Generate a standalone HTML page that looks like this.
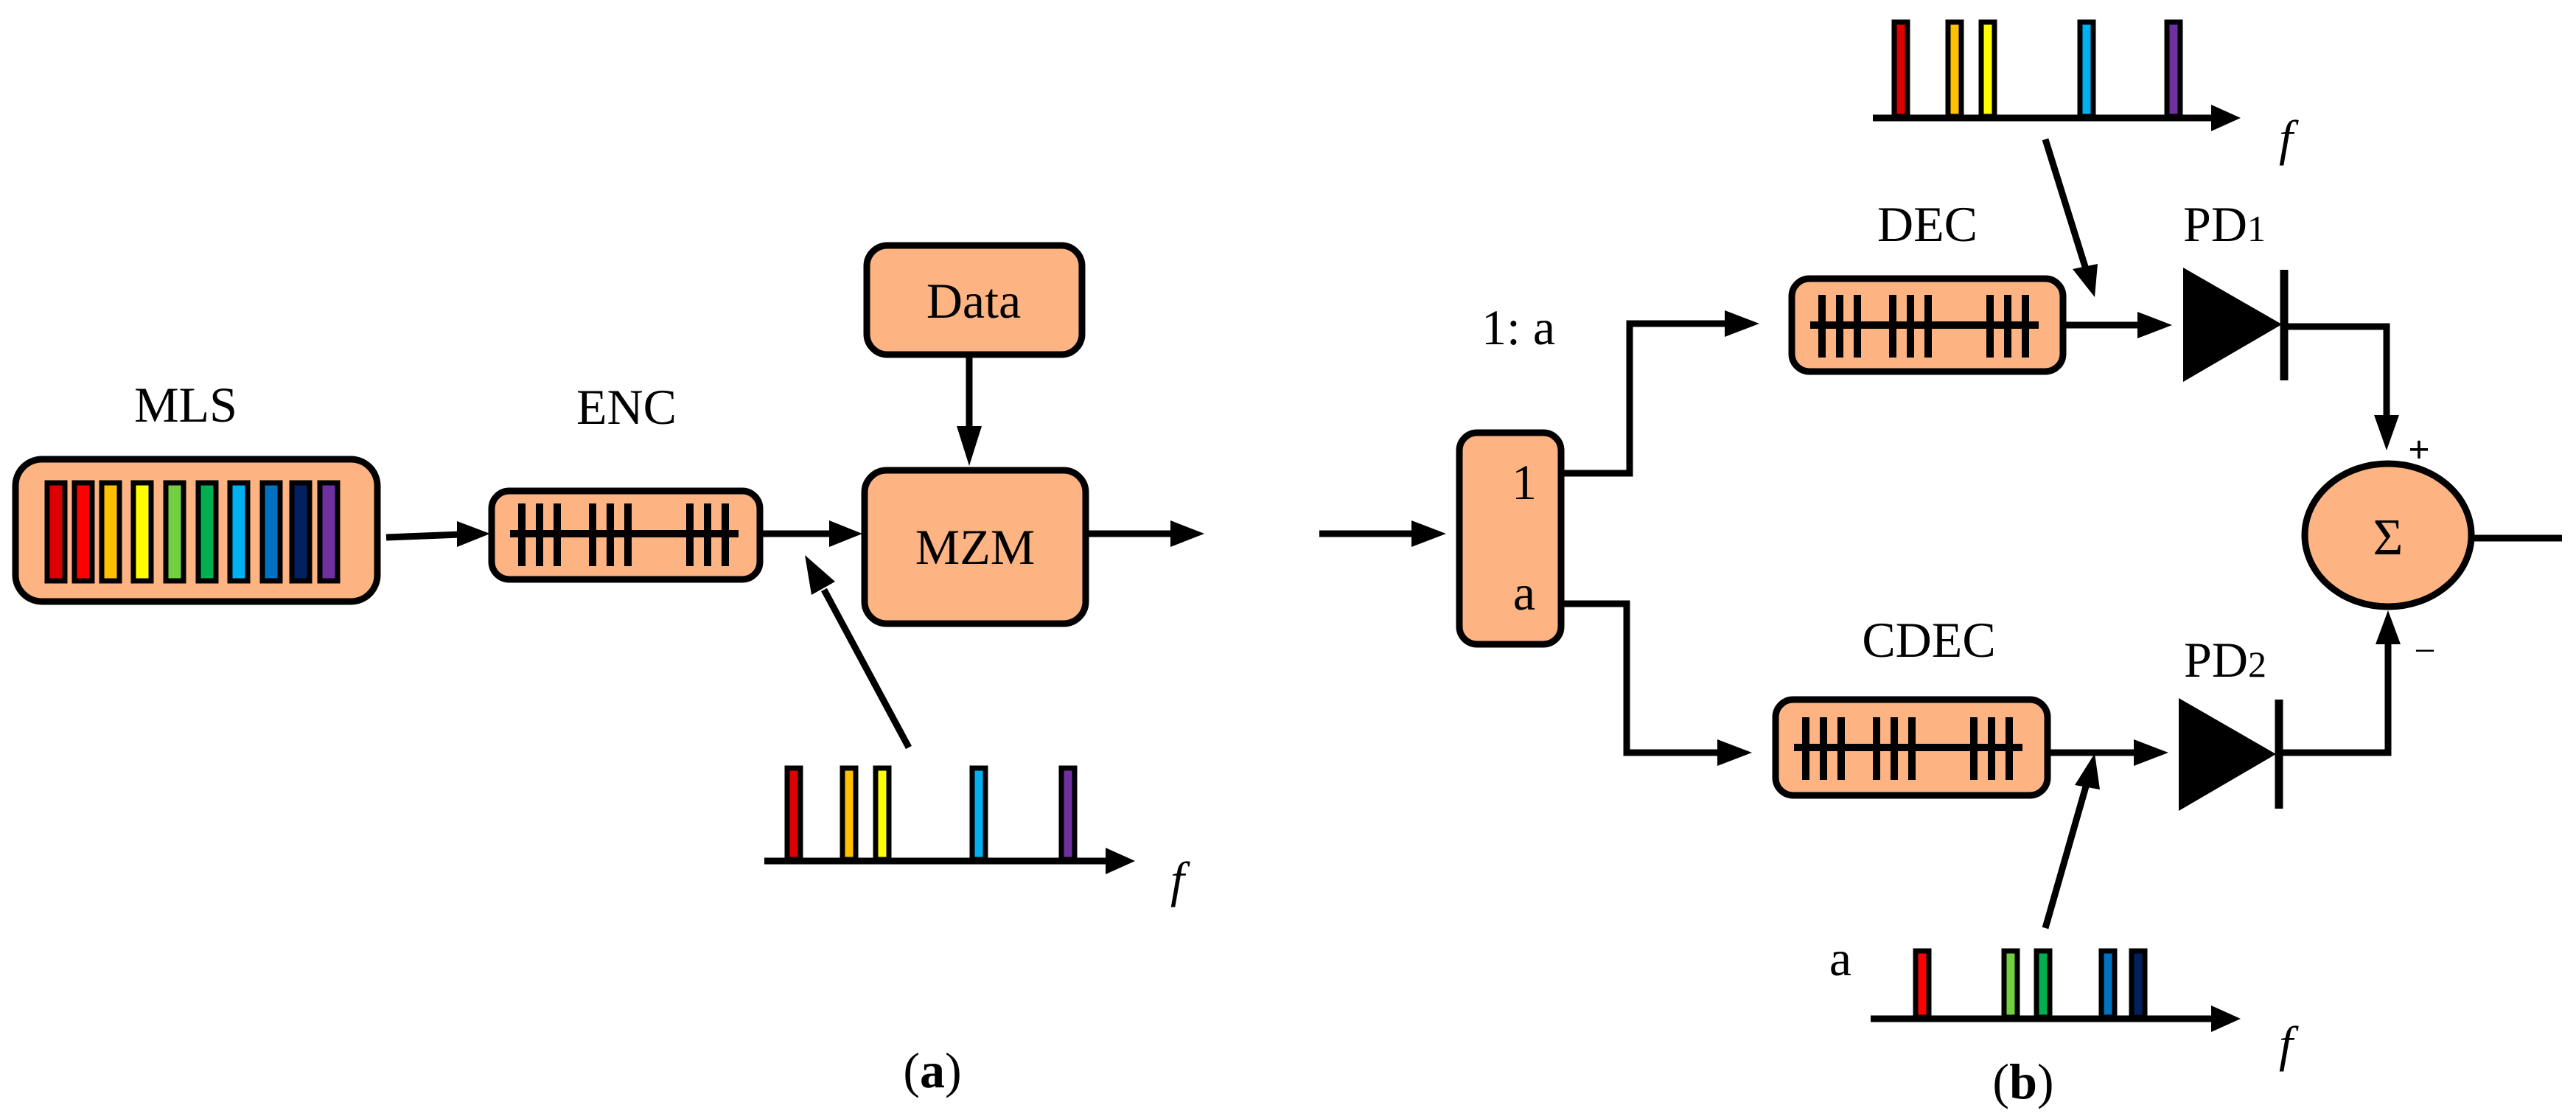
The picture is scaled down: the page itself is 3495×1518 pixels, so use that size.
<!DOCTYPE html>
<html><head><meta charset="utf-8"><style>
html,body{margin:0;padding:0;background:#fff;}
svg{display:block}
text{font-family:"Liberation Serif",serif;fill:#000}
</style></head><body>
<svg width="3495" height="1518" viewBox="0 0 3495 1518" xmlns="http://www.w3.org/2000/svg">
<defs>
<g id="grat">
<line x1="29" y1="62" x2="339" y2="62" stroke="#000" stroke-width="10"/>
<g stroke="#000" stroke-width="10">
<line x1="45" y1="21" x2="45" y2="106"/><line x1="69" y1="21" x2="69" y2="106"/><line x1="93" y1="21" x2="93" y2="106"/>
<line x1="141" y1="21" x2="141" y2="106"/><line x1="165" y1="21" x2="165" y2="106"/><line x1="189" y1="21" x2="189" y2="106"/>
<line x1="273" y1="21" x2="273" y2="106"/><line x1="297" y1="21" x2="297" y2="106"/><line x1="321" y1="21" x2="321" y2="106"/>
</g>
</g>
</defs>
<g fill="#FDB382" stroke="#000" stroke-width="9">
<rect x="21" y="623" width="491" height="193" rx="36"/>
<rect x="667" y="666" width="364" height="120" rx="24"/>
<rect x="1173" y="638" width="300" height="208" rx="30"/>
<rect x="1176" y="333" width="292" height="148" rx="28"/>
<rect x="1980" y="587" width="138" height="287" rx="24"/>
<rect x="2431" y="378" width="368" height="126" rx="24"/>
<rect x="2409" y="949" width="369" height="130" rx="24"/>
<ellipse cx="3240" cy="726" rx="113" ry="97"/>
</g>
<use href="#grat" x="663" y="662"/>
<use href="#grat" x="2427" y="379"/>
<use href="#grat" x="2405" y="952"/>
<g stroke="#000" stroke-width="7">
<rect x="64" y="655" width="24" height="133" fill="#DC0000"/>
<rect x="101" y="655" width="24" height="133" fill="#FF0000"/>
<rect x="138" y="655" width="24" height="133" fill="#FFC000"/>
<rect x="181" y="655" width="24" height="133" fill="#FFFF00"/>
<rect x="225" y="655" width="24" height="133" fill="#70D040"/>
<rect x="269" y="655" width="24" height="133" fill="#00B050"/>
<rect x="312" y="655" width="24" height="133" fill="#00B0F0"/>
<rect x="356" y="655" width="24" height="133" fill="#0070C0"/>
<rect x="396" y="655" width="24" height="133" fill="#002060"/>
<rect x="434" y="655" width="24" height="133" fill="#7030A0"/>
</g>
<g stroke="#000" stroke-width="7">
<rect x="1068" y="1042" width="18" height="124" fill="#DC0000"/>
<rect x="1143" y="1042" width="18" height="124" fill="#FFC000"/>
<rect x="1188" y="1042" width="18" height="124" fill="#FFFF00"/>
<rect x="1319" y="1042" width="18" height="124" fill="#00B0F0"/>
<rect x="1440" y="1042" width="18" height="124" fill="#7030A0"/>
<rect x="2570" y="30" width="18" height="128" fill="#DC0000"/>
<rect x="2643" y="30" width="18" height="128" fill="#FFC000"/>
<rect x="2688" y="30" width="18" height="128" fill="#FFFF00"/>
<rect x="2822" y="30" width="18" height="128" fill="#00B0F0"/>
<rect x="2940" y="30" width="18" height="128" fill="#7030A0"/>
<rect x="2599" y="1290" width="18" height="90" fill="#FF0000"/>
<rect x="2719" y="1290" width="18" height="90" fill="#70D040"/>
<rect x="2763" y="1290" width="18" height="90" fill="#00B050"/>
<rect x="2851" y="1290" width="18" height="90" fill="#0070C0"/>
<rect x="2892" y="1290" width="18" height="90" fill="#002060"/>
</g>
<g stroke="#000" stroke-width="9" fill="none">
<line x1="1037" y1="1168" x2="1500" y2="1168"/>
<line x1="2541" y1="160" x2="3000" y2="160"/>
<line x1="2538" y1="1382" x2="3000" y2="1382"/>
<line x1="524" y1="729" x2="625" y2="725"/>
<line x1="1031" y1="724" x2="1125" y2="724"/>
<line x1="1315" y1="481" x2="1315" y2="580"/>
<line x1="1473" y1="724" x2="1590" y2="724"/>
<line x1="1233" y1="1014" x2="1118" y2="800"/>
<line x1="1790" y1="724" x2="1920" y2="724"/>
<polyline points="2118,642 2211,642 2211,439 2340,439"/>
<polyline points="2118,819 2207,819 2207,1021 2330,1021"/>
<line x1="2799" y1="441" x2="2905" y2="441"/>
<line x1="2778" y1="1021" x2="2900" y2="1021"/>
<line x1="2775" y1="189" x2="2830" y2="365"/>
<line x1="2775" y1="1259" x2="2832" y2="1060"/>
<polyline points="3096,443 3238,443 3238,565"/>
<polyline points="3092,1021 3240,1021 3240,870"/>
<line x1="3353" y1="730" x2="3476" y2="730"/>
</g>
<g fill="#000">
<polygon points="620,707 665,724 620,742"/>
<polygon points="1125,706 1170,724 1125,742"/>
<polygon points="1298,578 1332,578 1315,632"/>
<polygon points="1588,706 1634,724 1588,742"/>
<polygon points="1092,753 1133,789 1101,807"/>
<polygon points="1500,1150 1540,1168 1500,1186"/>
<polygon points="3000,142 3040,160 3000,178"/>
<polygon points="3000,1364 3040,1382 3000,1400"/>
<polygon points="1915,706 1962,724 1915,742"/>
<polygon points="2340,421 2387,439 2340,457"/>
<polygon points="2330,1003 2377,1021 2330,1039"/>
<polygon points="2900,423 2947,441 2900,459"/>
<polygon points="2895,1003 2942,1021 2895,1039"/>
<polygon points="2962,363 3096,440 2962,518"/>
<polygon points="2956,947 3088,1023 2956,1100"/>
<polygon points="3221,563 3255,563 3238,611"/>
<polygon points="3223,874 3257,874 3240,828"/>
<polygon points="2812,365 2846,358 2842,403"/>
<polygon points="2815,1065 2849,1071 2842,1022"/>
</g>
<g stroke="#000" stroke-width="11">
<line x1="3099" y1="366" x2="3099" y2="516"/>
<line x1="3092" y1="949" x2="3092" y2="1097"/>
</g>
<g font-size="68">
<text x="252" y="572" text-anchor="middle">MLS</text>
<text x="850" y="575" text-anchor="middle">ENC</text>
<text x="1321" y="431" text-anchor="middle">Data</text>
<text x="1323" y="765" text-anchor="middle">MZM</text>
<text x="2060" y="467" text-anchor="middle">1: a</text>
<text x="2068" y="677" text-anchor="middle">1</text>
<text x="2068" y="827" text-anchor="middle">a</text>
<text x="2615" y="327" text-anchor="middle">DEC</text>
<text x="2617" y="891" text-anchor="middle">CDEC</text>
<text x="2962" y="327">PD<tspan font-size="50">1</tspan></text>
<text x="2963" y="918">PD<tspan font-size="50">2</tspan></text>
<text x="3240" y="752" text-anchor="middle" font-size="70">Σ</text>
<text x="3282" y="627" text-anchor="middle" font-weight="bold" font-size="52">+</text>
<text x="3290" y="900" text-anchor="middle" font-size="52">−</text>
<text x="2497" y="1323" text-anchor="middle">a</text>
<text x="1588" y="1216" font-style="italic">f</text>
<text x="3092" y="210" font-style="italic">f</text>
<text x="3092" y="1439" font-style="italic">f</text>
<text x="1265" y="1475" text-anchor="middle">(<tspan font-weight="bold">a</tspan>)</text>
<text x="2745" y="1490" text-anchor="middle">(<tspan font-weight="bold">b</tspan>)</text>
</g>
</svg>
</body></html>
